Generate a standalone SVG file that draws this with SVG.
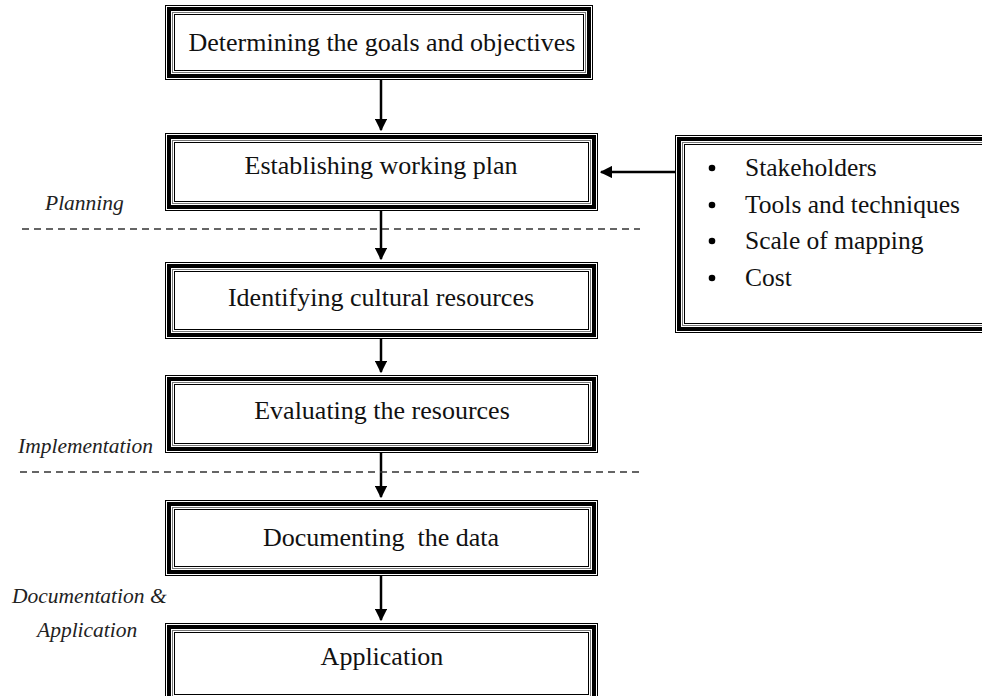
<svg xmlns="http://www.w3.org/2000/svg" width="982" height="696" viewBox="0 0 982 696">
<style>
.o{fill:#fff;stroke:#000;stroke-width:1}
.t{fill:none;stroke:#000;stroke-width:4}
.i{fill:none;stroke:#777;stroke-width:1}
.n{fill:none;stroke:#000;stroke-width:1}
.lbl{font-family:"Liberation Serif",serif;font-size:26px;fill:#111;text-anchor:middle}
.bul{font-family:"Liberation Serif",serif;font-size:25.5px;fill:#111}
.ph{font-family:"Liberation Serif",serif;font-size:21.5px;font-style:italic;fill:#222}
.c{stroke:#000;stroke-width:2.5;fill:none}
.d{stroke:#333;stroke-width:1.3;stroke-dasharray:7,5;fill:none}
</style>
<defs>
<marker id="ah" markerWidth="5" markerHeight="5" refX="4.5" refY="2.5" orient="auto" markerUnits="strokeWidth">
<path d="M0,0 L5,2.5 L0,5 z" fill="#000"/>
</marker>
</defs>
<g id="connectors">
<line class="c" x1="381" y1="80" x2="381" y2="130" marker-end="url(#ah)"/>
<line class="c" x1="381" y1="211" x2="381" y2="259" marker-end="url(#ah)"/>
<line class="c" x1="381" y1="339" x2="381" y2="372" marker-end="url(#ah)"/>
<line class="c" x1="381" y1="453" x2="381" y2="497" marker-end="url(#ah)"/>
<line class="c" x1="381" y1="576" x2="381" y2="620" marker-end="url(#ah)"/>
<line class="c" x1="675" y1="172" x2="601" y2="172" marker-end="url(#ah)"/>
</g>
<g id="dividers">
<line class="d" x1="22" y1="229" x2="640" y2="229"/>
<line class="d" x1="20" y1="472" x2="640" y2="472"/>
</g>
<g id="phase-labels">
<text class="ph" x="45" y="210">Planning</text>
<text class="ph" x="18" y="453">Implementation</text>
<text class="ph" x="12" y="603">Documentation &amp;</text>
<text class="ph" x="37" y="637">Application</text>
</g>
<g id="n1">
<rect class="o" x="165.5" y="5.5" width="427" height="74"/>
<rect class="t" x="169" y="9" width="420" height="67"/>
<rect class="i" x="172.5" y="12.5" width="413" height="60"/>
<rect class="n" x="174.5" y="14.5" width="409" height="56"/>
<text class="lbl" x="382" y="51">Determining the goals and objectives</text>
</g>
<g id="n2">
<rect class="o" x="165.5" y="133.5" width="432" height="77"/>
<rect class="t" x="169" y="137" width="425" height="70"/>
<rect class="i" x="172.5" y="140.5" width="418" height="63"/>
<rect class="n" x="174.5" y="142.5" width="414" height="59"/>
<text class="lbl" x="381" y="174">Establishing working plan</text>
</g>
<g id="n3">
<rect class="o" x="165.5" y="262.5" width="432" height="76"/>
<rect class="t" x="169" y="266" width="425" height="69"/>
<rect class="i" x="172.5" y="269.5" width="418" height="62"/>
<rect class="n" x="174.5" y="271.5" width="414" height="58"/>
<text class="lbl" x="381" y="306">Identifying cultural resources</text>
</g>
<g id="n4">
<rect class="o" x="165.5" y="375.5" width="432" height="77"/>
<rect class="t" x="169" y="379" width="425" height="70"/>
<rect class="i" x="172.5" y="382.5" width="418" height="63"/>
<rect class="n" x="174.5" y="384.5" width="414" height="59"/>
<text class="lbl" x="382" y="419">Evaluating the resources</text>
</g>
<g id="n5">
<rect class="o" x="165.5" y="500.5" width="432" height="75"/>
<rect class="t" x="169" y="504" width="425" height="68"/>
<rect class="i" x="172.5" y="507.5" width="418" height="61"/>
<rect class="n" x="174.5" y="509.5" width="414" height="57"/>
<text class="lbl" x="381" y="546" xml:space="preserve">Documenting  the data</text>
</g>
<g id="n6">
<rect class="o" x="165.5" y="623.5" width="432" height="80"/>
<rect class="t" x="169" y="627" width="425" height="73"/>
<rect class="i" x="172.5" y="630.5" width="418" height="66"/>
<rect class="n" x="174.5" y="632.5" width="414" height="62"/>
<text class="lbl" x="382" y="665">Application</text>
</g>
<g id="side">
<rect class="o" x="675.5" y="135.5" width="320" height="197"/>
<rect class="t" x="679" y="139" width="320" height="190"/>
<rect class="i" x="682.5" y="142.5" width="320" height="183"/>
<rect class="n" x="684.5" y="144.5" width="320" height="179"/>
<circle cx="712" cy="168" r="3.3" fill="#000"/>
<circle cx="712" cy="205" r="3.3" fill="#000"/>
<circle cx="712" cy="241" r="3.3" fill="#000"/>
<circle cx="712" cy="278" r="3.3" fill="#000"/>
<text class="bul" x="745" y="176">Stakeholders</text>
<text class="bul" x="745" y="213">Tools and techniques</text>
<text class="bul" x="745" y="249">Scale of mapping</text>
<text class="bul" x="745" y="286">Cost</text>
</g>
</svg>
